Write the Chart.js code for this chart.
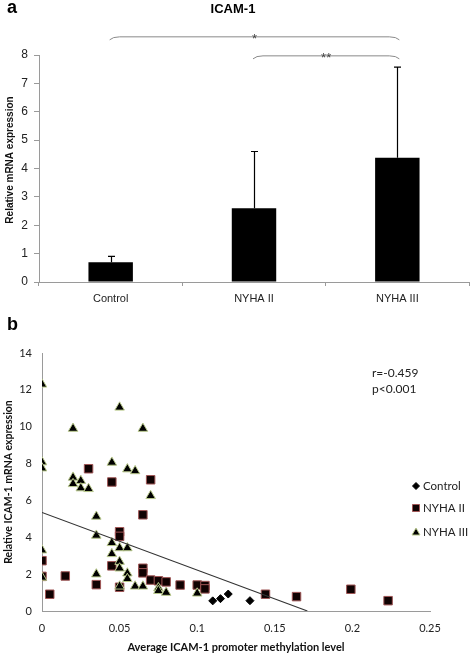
<!DOCTYPE html>
<html>
<head>
<meta charset="utf-8">
<script src="https://cdn.jsdelivr.net/npm/chart.js@4.4.0/dist/chart.umd.min.js"></script>
<style>
  html, body { margin: 0; padding: 0; background: #fff; }
  #wrap { position: relative; width: 472px; height: 656px; overflow: hidden; }
  #chartA { position: absolute; left: 0; top: 0; }
  #chartB { position: absolute; left: 0; top: 305px; }
</style>
</head>
<body>
<div id="wrap">
  <canvas id="chartA" width="472" height="310"></canvas>
  <canvas id="chartB" width="472" height="351"></canvas>
</div>
<script>
/* ---- panel a: ICAM-1 mRNA by group ---- */
const groupLabels = ['Control', 'NYHA II', 'NYHA III'];
const meanExpr    = [0.70, 2.60, 4.38];
const errUpper    = [0.90, 4.60, 7.57];
// significance brackets: [from group, to group, level, mark]
const sigFrom  = [0, 1];
const sigTo    = [2, 2];
const sigLevel = [8.64, 7.97];
const sigMark  = ['*', '**'];

/* ---- panel b: expression vs promoter methylation ---- */
const controlPts = [[0.110, 0.55], [0.115, 0.67], [0.120, 0.92], [0.134, 0.56]];
const nyha2Pts = [
  [0, 2.73], [0, 1.88], [0.005, 0.91], [0.015, 1.90], [0.030, 7.72], [0.035, 1.43],
  [0.045, 7.00], [0.045, 2.45], [0.050, 4.30], [0.050, 4.05], [0.050, 1.29],
  [0.065, 5.22], [0.065, 2.32], [0.065, 2.07], [0.070, 7.12], [0.070, 1.68],
  [0.075, 1.64], [0.080, 1.58], [0.089, 1.41], [0.100, 1.41], [0.105, 1.38],
  [0.105, 1.20], [0.144, 0.91], [0.164, 0.78], [0.199, 1.18], [0.223, 0.56]
];
const nyha3Pts = [
  [0, 12.3], [0, 8.08], [0, 7.75], [0, 3.30], [0, 1.82], [0.020, 9.90], [0.020, 7.25],
  [0.020, 6.90], [0.025, 7.07], [0.025, 6.67], [0.030, 6.63], [0.035, 5.13], [0.035, 4.10],
  [0.035, 2.00], [0.045, 8.06], [0.045, 3.70], [0.045, 3.10], [0.050, 11.05], [0.050, 3.42],
  [0.050, 2.68], [0.050, 2.32], [0.050, 1.34], [0.055, 7.70], [0.055, 3.42], [0.055, 2.05],
  [0.055, 1.75], [0.060, 7.60], [0.060, 1.34], [0.065, 9.90], [0.065, 1.34], [0.070, 6.25],
  [0.075, 1.25], [0.075, 1.10], [0.080, 1.00], [0.100, 0.96]
];
const trendX = [0, 0.171];
const trendY = [5.35, 0];
const statLines = ['r=-0.459', 'p<0.001'];

const FONT_A = "'Liberation Sans', Arial, sans-serif";
const FONT_B = "Lato, 'Liberation Sans', sans-serif";
const AXIS_GREY = '#9a9a9a';
const TEXT_DARK = '#222';

const toXY = pts => pts.map(([x, y]) => ({ x, y }));

// ---- error bars (upper only) + brackets + headings for panel a ----
const panelAPlugin = {
  id: 'panelA',
  afterDatasetsDraw(chart) {
    const { ctx, scales: { x, y } } = chart;
    ctx.save();
    ctx.strokeStyle = '#000';
    ctx.lineWidth = 1.2;
    meanExpr.forEach((v, i) => {
      const px = Math.round(x.getPixelForValue(i)) + 0.5;
      const top = y.getPixelForValue(errUpper[i]);
      ctx.beginPath();
      ctx.moveTo(px, y.getPixelForValue(v));
      ctx.lineTo(px, top);
      ctx.moveTo(px - 3.5, top);
      ctx.lineTo(px + 3.5, top);
      ctx.stroke();
    });

    // brackets
    ctx.strokeStyle = '#8a8a8a';
    ctx.lineWidth = 1;
    ctx.fillStyle = '#444';
    ctx.font = '13px ' + FONT_A;
    ctx.textAlign = 'center';
    ctx.textBaseline = 'alphabetic';
    sigLevel.forEach((lv, i) => {
      const x1 = x.getPixelForValue(sigFrom[i]) - 1;
      const x2 = x.getPixelForValue(sigTo[i]) + 2;
      const yy = y.getPixelForValue(lv);
      ctx.beginPath();
      ctx.moveTo(x1, yy + 3);
      ctx.quadraticCurveTo(x1 + 3, yy, x1 + 10, yy);
      ctx.lineTo(x2 - 10, yy);
      ctx.quadraticCurveTo(x2 - 3, yy, x2, yy + 3);
      ctx.stroke();
      ctx.fillText(sigMark[i], (x1 + x2) / 2, yy + 6);
    });

    ctx.fillStyle = '#000';
    ctx.textAlign = 'left';
    ctx.font = 'bold 18px ' + FONT_A;
    ctx.fillText('a', 7, 13);
    ctx.textAlign = 'center';
    ctx.font = 'bold 13px ' + FONT_A;
    ctx.fillText('ICAM-1', 233, 13);

    // y axis title
    ctx.save();
    ctx.translate(10, 160);
    ctx.rotate(-Math.PI / 2);
    ctx.fillStyle = '#111';
    ctx.font = 'bold 10px ' + FONT_A;
    ctx.textBaseline = 'middle';
    ctx.fillText('Relative mRNA expression', 0, 0);
    ctx.restore();
    ctx.restore();
  }
};

new Chart(document.getElementById('chartA'), {
  type: 'bar',
  data: {
    labels: groupLabels,
    datasets: [{
      data: meanExpr,
      backgroundColor: '#000',
      borderWidth: 0,
      categoryPercentage: 1,
      barPercentage: 0.31,
    }]
  },
  options: {
    responsive: false,
    animation: false,
    layout: { padding: { top: 55, right: 3, left: 0, bottom: 0 } },
    plugins: { legend: { display: false }, tooltip: { enabled: false } },
    scales: {
      x: {
        grid: { drawOnChartArea: false, tickLength: 4, color: AXIS_GREY, offset: true },
        border: { color: AXIS_GREY },
        ticks: { font: { family: FONT_A, size: 11 }, color: TEXT_DARK, padding: 6 },
        afterFit: s => { s.height = 28; }
      },
      y: {
        min: 0, max: 8,
        grid: { drawOnChartArea: false, tickLength: 5, color: AXIS_GREY },
        border: { color: AXIS_GREY },
        ticks: { stepSize: 1, font: { family: FONT_A, size: 12 }, color: TEXT_DARK, padding: 6 },
        afterFit: s => { s.width = 39; }
      }
    }
  },
  plugins: [panelAPlugin]
});

// ---- legend, stats text, panel letter for panel b ----
const panelBPlugin = {
  id: 'panelB',
  afterDraw(chart) {
    const { ctx } = chart;
    ctx.save();
    ctx.fillStyle = '#000';
    ctx.textAlign = 'left';
    ctx.textBaseline = 'alphabetic';
    ctx.font = 'bold 18px ' + FONT_A;
    ctx.fillText('b', 7, 25);

    ctx.fillStyle = TEXT_DARK;
    ctx.font = '12px ' + FONT_B;
    ctx.textBaseline = 'middle';
    statLines.forEach((t, i) => ctx.fillText(t, 372, 68 + i * 16));

    // legend
    const items = chart.data.datasets.slice(0, 3);
    const ly = [181, 203, 227];
    ctx.font = '11.5px ' + FONT_B;
    items.forEach((ds, i) => {
      const mx = 416, my = ly[i];
      ctx.fillStyle = ds.backgroundColor;
      ctx.strokeStyle = ds.borderColor;
      ctx.lineWidth = 1;
      ctx.beginPath();
      if (ds.pointStyle === 'rectRot') {
        ctx.moveTo(mx, my - 3.5); ctx.lineTo(mx + 3.5, my); ctx.lineTo(mx, my + 3.5); ctx.lineTo(mx - 3.5, my);
      } else if (ds.pointStyle === 'rect') {
        ctx.rect(mx - 3.5, my - 3.5, 7, 7);
      } else {
        ctx.moveTo(mx, my - 4); ctx.lineTo(mx + 4, my + 3); ctx.lineTo(mx - 4, my + 3);
      }
      ctx.closePath();
      ctx.fill();
      ctx.stroke();
      ctx.fillStyle = TEXT_DARK;
      ctx.fillText(ds.label, 423, my + 0.5);
    });
    ctx.restore();
  }
};

new Chart(document.getElementById('chartB'), {
  type: 'scatter',
  data: {
    datasets: [
      { label: 'Control', data: toXY(controlPts), pointStyle: 'rectRot', pointRadius: 4,
        backgroundColor: '#000', borderColor: '#000', borderWidth: 1, order: 3 },
      { label: 'NYHA II', data: toXY(nyha2Pts), pointStyle: 'rect', pointRadius: 6,
        backgroundColor: '#100202', borderColor: '#a05656', borderWidth: 1, order: 2 },
      { label: 'NYHA III', data: toXY(nyha3Pts), pointStyle: 'triangle', pointRadius: 5.5,
        backgroundColor: '#000', borderColor: '#b9c98c', borderWidth: 1, order: 1 },
      { type: 'line', label: 'trend', data: trendX.map((x, i) => ({ x, y: trendY[i] })),
        borderColor: '#333', borderWidth: 1.1, pointRadius: 0, fill: false, order: 0 }
    ]
  },
  options: {
    responsive: false,
    animation: false,
    layout: { padding: { top: 48, right: 42, left: 0, bottom: 0 } },
    plugins: { legend: { display: false }, tooltip: { enabled: false } },
    scales: {
      x: {
        type: 'linear', min: 0, max: 0.25,
        grid: { drawOnChartArea: false, drawTicks: false },
        border: { color: AXIS_GREY },
        ticks: { stepSize: 0.05, font: { family: FONT_B, size: 11 }, color: TEXT_DARK, padding: 11,
                 callback: v => String(+v.toFixed(2)) },
        title: { display: true, text: 'Average ICAM-1 promoter methylation level', color: '#111',
                 font: { family: FONT_B, size: 11, weight: 'bold' }, padding: { top: 0, bottom: 2 } },
        afterFit: s => { s.height = 45; }
      },
      y: {
        min: 0, max: 14,
        grid: { drawOnChartArea: false, drawTicks: false },
        border: { color: AXIS_GREY },
        ticks: { stepSize: 2, font: { family: FONT_B, size: 11 }, color: TEXT_DARK, padding: 10 },
        title: { display: true, text: 'Relative ICAM-1 mRNA expression', color: '#111',
                 font: { family: FONT_B, size: 10.5, weight: 'bold' }, padding: { top: 2, bottom: 0 } },
        afterFit: s => { s.width = 42; }
      }
    }
  },
  plugins: [panelBPlugin]
});
</script>
</body>
</html>
